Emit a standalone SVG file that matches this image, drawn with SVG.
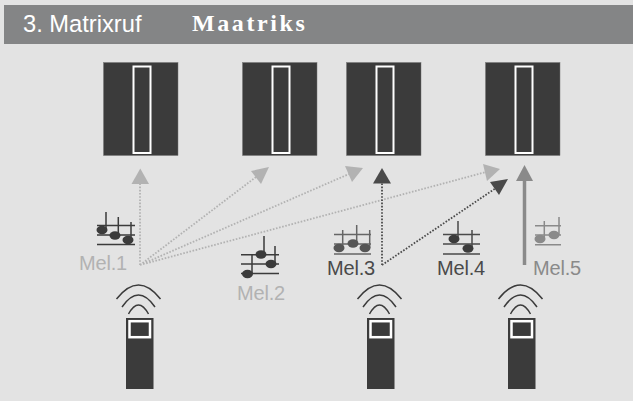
<svg xmlns="http://www.w3.org/2000/svg" width="633" height="401" viewBox="0 0 633 401">
<style>
.l{font-family:"Liberation Sans",Arial,sans-serif;font-size:20px;letter-spacing:-.2px}
.m{fill:#3b3b3b;stroke:#777;stroke-width:.5}
.w{fill:none;stroke:#fff;stroke-width:2}
.a{fill:none;stroke:#3b3b3b;stroke-width:1.5}
.dl{fill:none;stroke-width:1.8;stroke-dasharray:1.6 1.6}
.n{fill:none;stroke-width:1.5}
.lg{fill:#b2b2b2}.dk{fill:#4a4a4a}.md{fill:#8a8a8a}
</style>
<defs>
<g id="matrix"><rect class="m" x="0" y="0" width="74.5" height="93"/><rect class="w" x="30" y="4" width="17" height="86.5"/></g>
<g id="remote"><path class="a" d="M-22 -19Q0 -47 22 -19M-16.500 -11Q0 -35 16.500 -11M-10 -4Q0 -22 10 -4"/><rect x="-12.500" y="0" width="27.500" height="71" fill="#3b3b3b"/><rect x="-9" y="3.200" width="20.500" height="16" fill="#3b3b3b" stroke="#fff" stroke-width="2.500"/></g>
</defs>
<rect width="633" height="401" fill="#e3e3e3"/>
<rect x="4" y="5" width="629" height="39" fill="#848586"/>
<text x="23" y="32" font-family="'Liberation Sans',Arial,sans-serif" font-size="23.700" fill="#fff">3. Matrixruf</text>
<text x="192" y="30.500" font-family="'Liberation Serif','Times New Roman',serif" font-size="24" font-weight="bold" fill="#fff" letter-spacing="2.600">Maatriks</text>
<g id="matrix1"><use href="#matrix" x="103.500" y="62.500"/></g>
<g id="matrix2"><use href="#matrix" x="242.500" y="62.500"/></g>
<g id="matrix3"><use href="#matrix" x="346.500" y="62.500"/></g>
<g id="matrix4"><use href="#matrix" x="485.500" y="62.500"/></g>
<g id="connectors">
<path class="dl" stroke="#b2b2b2" d="M140 265V182M140 265L256 177M140 265L349 174M140 265L486 172"/>
<polygon class="lg" points="140.300,168.500 149,184 131.500,184"/>
<polygon class="lg" points="269,167 251,171 261,184"/>
<polygon class="lg" points="363,168 345,166 352,182"/>
<polygon class="lg" points="500,169 483,164 487,181"/>
<path class="dl" stroke="#4a4a4a" d="M382 265V182M382 265L496 188"/>
<polygon class="dk" points="382,168 391,183.500 373,183.500"/>
<polygon class="dk" points="508,179 490,182 499,195"/>
<path d="M524.500 265V178" stroke="#8a8a8a" stroke-width="3.500" fill="none"/>
<polygon class="md" points="524.500,165 533,181 516,181"/>
</g>
<g id="mel1"><path class="n" stroke="#3b3b3b" d="M97 225.500H135M97 235H135M97 244.500H135M106 212V231M118.300 217V235M131 222V240"/><g fill="#3b3b3b"><ellipse cx="102" cy="230" rx="5.500" ry="4.200"/><ellipse cx="115" cy="235.500" rx="5.500" ry="4.200"/><ellipse cx="128" cy="240" rx="5.500" ry="4.200"/></g><text class="l lg" x="79" y="270">Mel.1</text></g>
<g id="mel2"><path class="n" stroke="#3b3b3b" d="M241 254.700H279M241 264H279M241 273.500H279M264 236V255M275 246V264M252 255V274"/><g fill="#3b3b3b"><ellipse cx="261" cy="254.500" rx="5.500" ry="4.200"/><ellipse cx="271" cy="264" rx="5.500" ry="4.200"/><ellipse cx="247.500" cy="274" rx="5.500" ry="4.200"/></g><text class="l lg" x="237" y="300">Mel.2</text></g>
<g id="mel3"><path class="n" stroke="#666" d="M334 234.500H371M334 244H371M334 254H371M342.700 230V248M356.700 225V244M369.700 230V248"/><g fill="#555"><ellipse cx="339" cy="248" rx="5.500" ry="4.200"/><ellipse cx="353" cy="243.500" rx="5.500" ry="4.200"/><ellipse cx="365" cy="248" rx="5.500" ry="4.200"/></g><text class="l dk" x="327" y="275">Mel.3</text></g>
<g id="mel4"><path class="n" stroke="#4a4a4a" d="M443 234.500H480M443 244H480M443 254H480M458 221V238M472 230V248"/><g fill="#3b3b3b"><ellipse cx="454" cy="239" rx="5.500" ry="4.200"/><ellipse cx="468" cy="248.500" rx="5.500" ry="4.200"/></g><text class="l dk" x="437" y="275">Mel.4</text></g>
<g id="mel5"><path class="n" stroke="#8a8a8a" d="M535 225.700H561M535 235H561M535 244.700H561M544.300 221V239M559 217V235"/><g fill="#8a8a8a"><ellipse cx="540" cy="239" rx="5.500" ry="4.200"/><ellipse cx="554" cy="235" rx="5.500" ry="4.200"/></g><text class="l md" x="533" y="275">Mel.5</text></g>
<g id="remote1"><use href="#remote" x="138.500" y="318"/></g>
<g id="remote2"><use href="#remote" x="379.500" y="318"/></g>
<g id="remote3"><use href="#remote" x="520.500" y="318"/></g>
</svg>
